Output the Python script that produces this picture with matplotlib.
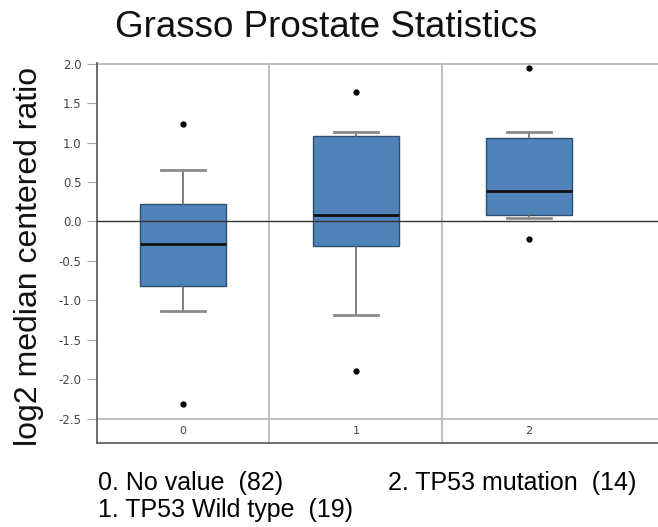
import matplotlib
matplotlib.use('Agg')
import matplotlib.pyplot as plt

# box statistics
groups = ['0', '1', '2']
whisker_low = [-1.13, -1.19, 0.05]
box_low = [-0.82, -0.31, 0.08]
medians = [-0.28, 0.08, 0.39]
box_high = [0.22, 1.08, 1.06]
whisker_high = [0.65, 1.13, 1.14]
outliers = [[1.23, -2.32], [1.64, -1.90], [1.94, -0.22]]
group_labels = ['0. No value  (82)', '1. TP53 Wild type  (19)', '2. TP53 mutation  (14)']
y_ticks = [2.0, 1.5, 1.0, 0.5, 0.0, -0.5, -1.0, -1.5, -2.0, -2.5]

plt.rcParams['font.family'] = ['Liberation Sans', 'DejaVu Sans']

fig = plt.figure(figsize=(6.58, 5.27), dpi=100)
ax = fig.add_axes([0.1474, 0.1594, 0.8526, 0.7211])

stats = []
for i, g in enumerate(groups):
    stats.append(dict(label=g, med=medians[i], q1=box_low[i], q3=box_high[i],
                      whislo=whisker_low[i], whishi=whisker_high[i],
                      fliers=outliers[i]))

ax.bxp(stats, positions=range(len(groups)), widths=0.5, patch_artist=True,
       boxprops=dict(facecolor='#4f83b9', edgecolor='#2f4f73', linewidth=1.0),
       medianprops=dict(color='#111111', linewidth=2.0),
       whiskerprops=dict(color='#6a6a6a', linewidth=1.2),
       capprops=dict(color='#8a8a8a', linewidth=2.0),
       flierprops=dict(marker='o', markerfacecolor='black', markeredgecolor='black',
                       markersize=3.5),
       zorder=3)

ax.set_xlim(-0.497, 2.746)
ax.set_ylim(-2.81, 2.01)

# separators and reference lines
for xs in [0.5, 1.5]:
    ax.axvline(xs, color='#b5b5b5', linewidth=1.2, zorder=1)
ax.axhline(0.0, color='#333333', linewidth=1.0, zorder=4)
ax.axhline(-2.5, color='#b5b5b5', linewidth=1.2, zorder=1)
ax.axhline(2.0, color='#b5b5b5', linewidth=1.2, zorder=1)

for i, g in enumerate(groups):
    ax.text(i, -2.66, g, ha='center', va='center', fontsize=8, color='#444444',
            family='DejaVu Sans')

ax.set_xticks([])
ax.set_yticks(y_ticks)
ax.set_yticklabels(['%.1f' % v for v in y_ticks], family='DejaVu Sans')
ax.tick_params(axis='y', direction='out', length=7, color='#aaaaaa',
               labelsize=8.5, labelcolor='#444444', pad=4)

for s in ['top', 'right']:
    ax.spines[s].set_visible(False)
ax.spines['left'].set_color('#555555')
ax.spines['bottom'].set_color('#555555')
ax.spines['left'].set_linewidth(1.2)
ax.spines['bottom'].set_linewidth(1.2)

fig.text(0.496, 0.947, 'Grasso Prostate Statistics', ha='center', va='center',
         fontsize=26.5, color='#111111')
fig.text(0.044, 0.514, 'log2 median centered ratio', ha='center', va='center',
         rotation=90, fontsize=23, color='#111111')

fig.text(0.149, 0.070, group_labels[0], ha='left', va='baseline', fontsize=18)
fig.text(0.149, 0.019, group_labels[1], ha='left', va='baseline', fontsize=18)
fig.text(0.590, 0.070, group_labels[2], ha='left', va='baseline', fontsize=18)

fig.savefig('out.png', dpi=100, facecolor='white')
